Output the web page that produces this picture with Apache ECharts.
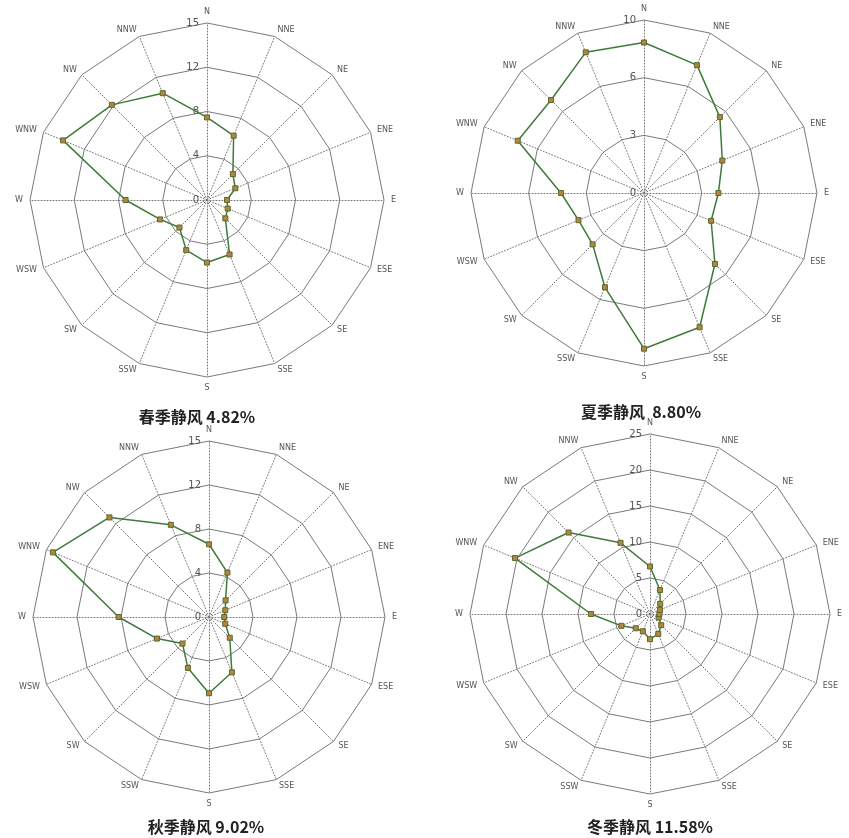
<!DOCTYPE html>
<html>
<head>
<meta charset="utf-8">
<script src="https://cdn.jsdelivr.net/npm/echarts@6/dist/echarts.min.js"></script>
<style>
  html, body { margin: 0; padding: 0; background: #fff; }
  #chart { width: 849px; height: 838px; }
</style>
</head>
<body>
<div id="chart"></div>
<script>
// directions, listed counter-clockwise from N so they go round clockwise on screen
const directions = ['N', 'NNW', 'NW', 'WNW', 'W', 'WSW', 'SW', 'SSW', 'S', 'SSE', 'SE', 'ESE', 'E', 'ENE', 'NE', 'NNE']

// wind frequency (%) per direction, same order as directions
const springValues = [7.0, 9.8, 11.4, 13.2, 6.9, 4.3, 3.3, 4.6, 5.3, 5.0, 2.2, 1.9, 1.7, 2.6, 3.1, 5.9]
const summerValues = [8.7, 8.8, 7.6, 7.9, 4.8, 4.1, 4.2, 5.9, 9.0, 8.4, 5.8, 4.2, 4.3, 4.9, 6.2, 8.0]
const autumnValues = [6.2, 8.5, 12.0, 14.4, 7.7, 4.8, 3.2, 4.7, 6.5, 5.1, 2.5, 1.5, 1.3, 1.5, 2.0, 4.1]
const winterValues = [6.6, 10.7, 16.0, 20.3, 8.2, 4.3, 2.8, 2.6, 3.5, 3.0, 2.2, 1.3, 1.3, 1.5, 2.0, 3.6]

const titles = ['春季静风 4.82%', '夏季静风  8.80%', '秋季静风 9.02%', '冬季静风 11.58%']

const panels = [
  { values: springValues, max: 15, split: 4, round: Math.ceil, center: [207, 200], radius: 177, title: [192, 404] },
  { values: summerValues, max: 10, split: 3, round: Math.floor, center: [644, 193], radius: 173, title: [636, 399] },
  { values: autumnValues, max: 15, split: 4, round: Math.ceil, center: [209, 617], radius: 176, title: [201, 814] },
  { values: winterValues, max: 25, split: 5, round: Math.round, center: [650, 614], radius: 180, title: [645, 814] }
]

const chart = echarts.init(document.getElementById('chart'))

const option = {
  backgroundColor: '#fff',
  animation: false,
  title: panels.map((p, i) => ({
    text: titles[i],
    left: p.title[0],
    top: p.title[1],
    textAlign: 'center',
    textStyle: {
      fontFamily: 'Noto Sans CJK SC',
      fontSize: 16,
      fontWeight: 'bold',
      color: '#222'
    }
  })),
  radar: panels.map(p => ({
    center: p.center,
    radius: p.radius,
    startAngle: 90,
    shape: 'polygon',
    splitNumber: p.split,
    indicator: directions.map((d, i) => ({
      name: d,
      min: 0,
      max: p.max,
      axisLabel: i === 0 ? {
        show: true,
        color: '#555',
        fontSize: 10,
        fontFamily: 'DejaVu Sans',
        formatter: v => String(p.round(v))
      } : { show: false }
    })),
    nameGap: 7,
    axisName: {
      color: '#555',
      fontSize: 8,
      fontFamily: 'DejaVu Sans'
    },
    splitLine: {
      lineStyle: { color: '#7a7a7a', width: 1 }
    },
    splitArea: { show: false },
    axisLine: {
      lineStyle: { color: '#777', type: [1, 2], width: 1 }
    },
    axisTick: { show: false }
  })),
  series: panels.map((p, i) => ({
    type: 'radar',
    radarIndex: i,
    symbol: 'rect',
    symbolSize: 5,
    lineStyle: { color: '#3f7a3a', width: 1.5 },
    itemStyle: { color: '#b8843c', borderColor: '#556b2f', borderWidth: 1 },
    data: [{ value: p.values }]
  }))
}

chart.setOption(option)
</script>
</body>
</html>
